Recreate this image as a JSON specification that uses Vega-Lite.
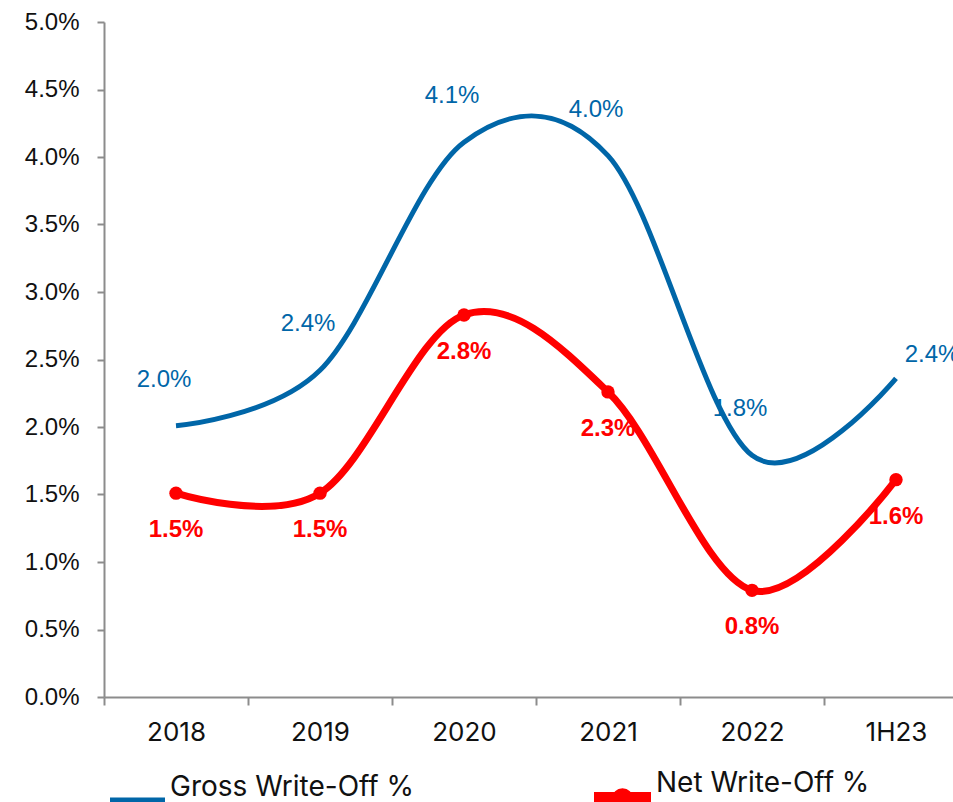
{
  "$schema": "https://vega.github.io/schema/vega-lite/v6.json",
  "autosize": {"type": "none"},
  "padding": {"left": 104, "top": 22, "right": 0, "bottom": 105},
  "width": 864,
  "height": 675,
  "background": "white",
  "config": {
    "view": {"stroke": null},
    "axis": {"domainColor": "#8c8c8c", "domainWidth": 2, "tickColor": "#8c8c8c", "tickWidth": 2, "grid": false, "title": null}
  },
  "data": {
    "values": [
      {"period": "2018", "series": "Gross Write-Off %", "value": 0.0201},
      {"period": "2019", "series": "Gross Write-Off %", "value": 0.0242},
      {"period": "2020", "series": "Gross Write-Off %", "value": 0.0411},
      {"period": "2021", "series": "Gross Write-Off %", "value": 0.0401},
      {"period": "2022", "series": "Gross Write-Off %", "value": 0.0179},
      {"period": "1H23", "series": "Gross Write-Off %", "value": 0.0236},
      {"period": "2018", "series": "Net Write-Off %", "value": 0.0151},
      {"period": "2019", "series": "Net Write-Off %", "value": 0.0151},
      {"period": "2020", "series": "Net Write-Off %", "value": 0.0283},
      {"period": "2021", "series": "Net Write-Off %", "value": 0.0226},
      {"period": "2022", "series": "Net Write-Off %", "value": 0.0079},
      {"period": "1H23", "series": "Net Write-Off %", "value": 0.0161}
    ]
  },
  "encoding": {
    "x": {
      "field": "period",
      "type": "nominal",
      "sort": ["2018", "2019", "2020", "2021", "2022", "1H23"],
      "scale": {"paddingInner": 0, "paddingOuter": 0},
      "axis": {
        "labelAngle": 0,
        "tickBand": "extent",
        "tickSize": 8,
        "labelPadding": 14,
        "labelFont": "Inter",
        "labelFontSize": 26,
        "labelColor": "#111111"
      }
    },
    "y": {
      "field": "value",
      "type": "quantitative",
      "scale": {"domain": [0, 0.05], "nice": false},
      "axis": {
        "values": [0, 0.005, 0.01, 0.015, 0.02, 0.025, 0.03, 0.035, 0.04, 0.045, 0.05],
        "format": ".1%",
        "tickSize": 7,
        "labelPadding": 18,
        "labelFont": "Liberation Sans",
        "labelFontSize": 24,
        "labelColor": "#111111"
      }
    }
  },
  "layer": [
    {
      "mark": {"type": "line", "interpolate": "cardinal"},
      "encoding": {
        "color": {
          "field": "series",
          "type": "nominal",
          "scale": {"domain": ["Gross Write-Off %", "Net Write-Off %"], "range": ["#0066A8", "#FF0000"]},
          "legend": {
            "title": null,
            "orient": "none",
            "direction": "horizontal",
            "legendX": 6,
            "legendY": 733,
            "padding": 0,
            "columnPadding": 168,
            "symbolSize": 2500,
            "labelOffset": 5,
            "labelFont": "Inter",
            "labelFontSize": 28,
            "labelColor": "#111111",
            "labelLimit": 400,
            "encode": {
              "symbols": {
                "update": {
                  "shape": {"signal": "datum.value === 'Net Write-Off %' ? 'M-1,0.47L1,0.47L1,0.73L-1,0.73Z M0.28,0.6A0.28,0.28,0,1,1,-0.28,0.6A0.28,0.28,0,1,1,0.28,0.6Z' : 'M-1,0.5L1,0.5L1,0.7L-1,0.7Z'"},
                  "fill": {"signal": "datum.value === 'Net Write-Off %' ? '#FF0000' : '#0066A8'"},
                  "fillOpacity": {"value": 1},
                  "strokeWidth": {"value": 0}
                }
              }
            }
          }
        },
        "strokeWidth": {
          "field": "series",
          "type": "nominal",
          "scale": {"domain": ["Gross Write-Off %", "Net Write-Off %"], "range": [5, 7]},
          "legend": null
        }
      }
    },
    {
      "transform": [{"filter": "datum.series === 'Net Write-Off %'"}],
      "mark": {"type": "point", "filled": true, "size": 180, "color": "#FF0000", "opacity": 1}
    },
    {
      "transform": [{"filter": "datum.series === 'Gross Write-Off %' && datum.period !== '1H23'"}],
      "mark": {"type": "text", "dx": -12, "dy": -46, "font": "Liberation Sans", "fontSize": 24, "color": "#0066A8"},
      "encoding": {"text": {"field": "value", "type": "quantitative", "format": ".1%"}}
    },
    {
      "transform": [{"filter": "datum.series === 'Gross Write-Off %' && datum.period === '1H23'"}],
      "mark": {"type": "text", "dx": 36, "dy": -23, "font": "Liberation Sans", "fontSize": 24, "color": "#0066A8"},
      "encoding": {"text": {"field": "value", "type": "quantitative", "format": ".1%"}}
    },
    {
      "transform": [{"filter": "datum.series === 'Net Write-Off %'"}],
      "mark": {"type": "text", "dy": 37, "font": "Liberation Sans", "fontSize": 24, "fontWeight": "bold", "color": "#FF0000"},
      "encoding": {"text": {"field": "value", "type": "quantitative", "format": ".1%"}}
    }
  ]
}
